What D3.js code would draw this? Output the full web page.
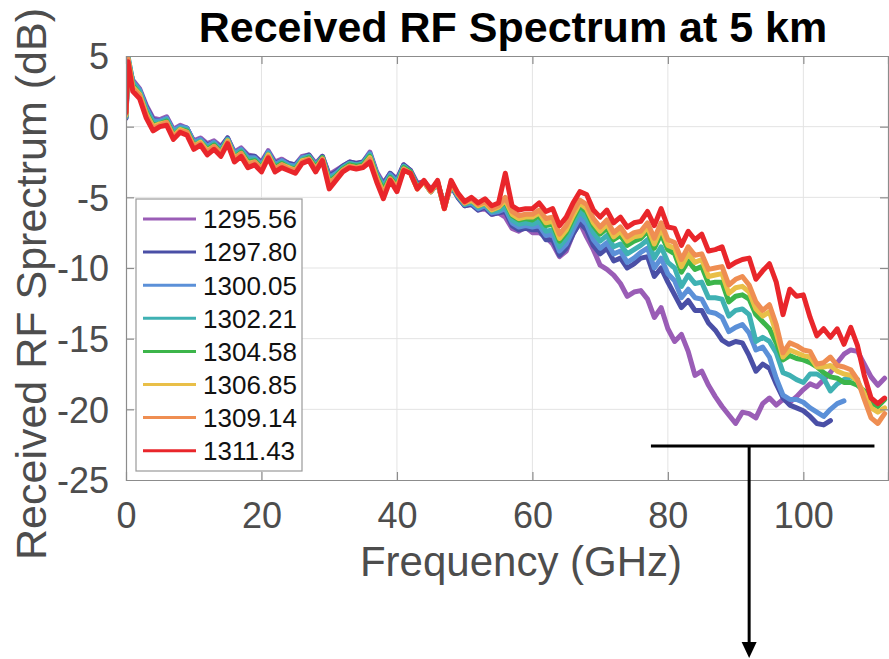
<!DOCTYPE html>
<html>
<head>
<meta charset="utf-8">
<script src="https://cdn.jsdelivr.net/npm/d3@7"></script>
<style>
  html, body { margin: 0; padding: 0; background: #ffffff; }
  svg { display: block; }
  text { font-family: "Liberation Sans", Arial, Helvetica, sans-serif; }
</style>
</head>
<body>
<div id="chart"></div>
<script>
// ---------------- DATA ----------------
const chartTitle = "Received RF Spectrum at 5 km";
const xLabel = "Frequency (GHz)";
const yLabel = "Received RF Sprectrum (dB)";
const xTicks = [0, 20, 40, 60, 80, 100];
const yTicks = [5, 0, -5, -10, -15, -20, -25];
const xDomain = [0, 112.5];
const yDomain = [-25, 5];

// Frequency grid (GHz) shared by all series
const freqs = [0, 0.3, 1, 2, 3, 4, 5, 6, 7, 8, 9, 10, 11, 12, 13, 14, 15, 16, 17, 18, 19, 20,
  21, 22, 23, 24, 25, 26, 27, 28, 29, 30, 31, 32, 33, 34, 35, 36, 37, 38, 39, 40,
  41, 42, 43, 44, 45, 46, 47, 48, 49, 50, 51, 52, 53, 54, 55, 56, 57, 58, 59, 60,
  61, 62, 63, 64, 65, 66, 67, 68, 69, 70, 71, 72, 73, 74, 75, 76, 77, 78, 79, 80,
  81, 82, 83, 84, 85, 86, 87, 88, 89, 90, 91, 92, 93, 94, 95, 96, 97, 98, 99, 100,
  101, 102, 103, 104, 105, 106, 107, 108, 109, 110, 111, 112];

const seriesNames = ["1295.56", "1297.80", "1300.05", "1302.21", "1304.58", "1306.85", "1309.14", "1311.43"];
const seriesColors = ["#9a5db6", "#4a4fa6", "#5b90d8", "#3fb1b3", "#3cb54a", "#e9bf48", "#ef8e52", "#e9262b"];

const s1295 = [0.6, 4.4, 3.3, 2.7, 1.5, 0.6, 0.5, 0.7, -0.2, 0.1, -0.1, -1.0, -0.8, -1.2, -1.0, -1.4, -0.8, -1.8, -1.5, -2.0, -2.1, -2.5,
  -1.7, -2.5, -2.3, -2.6, -2.7, -2.1, -2.0, -2.6, -2.1, -3.4, -3.1, -2.8, -2.5, -2.6, -2.5, -1.8, -3.2, -4.0, -3.3, -3.7,
  -2.7, -3.1, -4.0, -3.9, -4.4, -4.0, -5.5, -4.2, -5.0, -5.6, -5.5, -5.9, -5.8, -6.2, -6.1, -6.4, -7.2, -7.4, -7.1, -7.5,
  -7.5, -7.8, -8.3, -9.2, -8.8, -7.6, -6.8, -7.8, -8.7, -9.8, -10.1, -10.5, -11.1, -12.0, -11.7, -11.6, -12.2, -13.5, -12.8, -14.3,
  -15.2, -14.7, -15.9, -17.6, -17.3, -18.3, -19.1, -19.8, -20.4, -21.0, -20.2, -20.3, -20.6, -19.6, -19.2, -19.7, -19.3, -19.5, -19.1, -18.6,
  -18.2, -18.4, -17.9, -17.4, -16.7, -16.1, -15.8, -15.9, -16.8, -17.7, -18.3, -17.8];

const s1297 = [0.6, 4.7, 3.2, 2.6, 1.4, 0.5, 0.4, 0.6, -0.3, 0.0, -0.1, -1.1, -0.9, -1.3, -1.1, -1.5, -0.8, -1.9, -1.6, -2.1, -2.1, -2.6,
  -1.8, -2.6, -2.4, -2.6, -2.7, -2.2, -2.0, -2.7, -2.1, -3.5, -3.2, -2.8, -2.5, -2.6, -2.5, -1.9, -3.3, -4.1, -3.3, -3.8,
  -2.7, -3.1, -4.1, -3.9, -4.5, -4.0, -5.6, -4.2, -5.0, -5.6, -5.5, -5.9, -5.7, -6.2, -6.1, -6.0, -7.0, -7.3, -7.2, -7.3,
  -7.3, -8.0, -8.0, -9.1, -8.6, -7.6, -6.8, -7.3, -8.4, -9.0, -8.6, -9.5, -9.3, -10.0, -9.7, -9.3, -9.2, -10.6, -10.0, -11.0,
  -11.9, -12.8, -12.3, -13.0, -13.0, -13.9, -14.4, -15.1, -15.4, -15.2, -15.3, -16.2, -17.3, -16.8, -17.1, -18.2, -19.2, -19.7, -19.9, -20.1,
  -20.5, -21.0, -21.1, -20.8];

const s1300 = [0.7, 4.9, 3.2, 2.6, 1.3, 0.4, 0.4, 0.6, -0.3, 0.0, -0.1, -1.1, -0.9, -1.4, -1.1, -1.6, -0.9, -1.9, -1.6, -2.2, -2.2, -2.7,
  -1.8, -2.7, -2.4, -2.7, -2.8, -2.2, -2.1, -2.7, -2.2, -3.6, -3.3, -2.9, -2.6, -2.7, -2.6, -1.9, -3.3, -4.2, -3.4, -3.9,
  -2.8, -3.2, -4.2, -3.9, -4.6, -4.0, -5.7, -4.1, -4.9, -5.5, -5.4, -5.8, -5.6, -6.1, -6.0, -5.8, -6.8, -7.1, -7.0, -7.1,
  -7.0, -7.7, -7.6, -8.8, -8.3, -7.3, -6.4, -6.9, -8.0, -8.6, -8.2, -9.0, -8.8, -9.6, -9.3, -8.9, -8.6, -10.0, -9.3, -10.4,
  -10.9, -12.1, -11.5, -12.1, -12.2, -13.1, -13.2, -13.5, -14.5, -14.2, -14.0, -14.6, -15.8, -15.6, -16.3, -17.8, -19.0, -19.3, -19.3, -19.5,
  -19.9, -20.2, -20.5, -20.0, -19.6, -19.4];

const s1302 = [0.7, 5.0, 3.1, 2.5, 1.2, 0.3, 0.3, 0.5, -0.4, -0.1, -0.2, -1.2, -1.0, -1.5, -1.2, -1.7, -0.9, -2.0, -1.7, -2.3, -2.3, -2.8,
  -1.9, -2.8, -2.5, -2.8, -2.9, -2.3, -2.1, -2.8, -2.2, -3.7, -3.4, -2.9, -2.6, -2.7, -2.6, -2.0, -3.4, -4.3, -3.5, -4.0,
  -2.8, -3.2, -4.2, -3.9, -4.6, -4.0, -5.7, -4.1, -4.9, -5.5, -5.3, -5.7, -5.5, -6.0, -5.9, -5.6, -6.6, -6.9, -6.8, -6.9,
  -6.7, -7.4, -7.3, -8.5, -7.9, -6.9, -6.0, -6.5, -7.5, -8.1, -7.7, -8.5, -8.3, -9.0, -8.7, -8.4, -8.0, -9.3, -8.5, -9.6,
  -10.0, -11.3, -10.5, -11.1, -11.0, -12.1, -12.1, -12.2, -13.4, -13.0, -12.9, -13.3, -15.2, -14.9, -15.2, -16.0, -17.4, -17.6, -17.9, -18.1,
  -17.5, -17.5, -17.8, -18.7, -18.2, -17.9, -17.7, -17.9];

const s1304 = [0.8, 4.8, 2.9, 2.3, 1.0, 0.1, 0.2, 0.4, -0.6, -0.2, -0.3, -1.3, -1.1, -1.6, -1.3, -1.8, -1.0, -2.2, -1.8, -2.5, -2.4, -2.9,
  -2.0, -2.9, -2.6, -2.9, -3.0, -2.4, -2.2, -2.9, -2.2, -3.9, -3.5, -3.0, -2.7, -2.8, -2.7, -2.1, -3.5, -4.5, -3.6, -4.2,
  -2.9, -3.2, -4.3, -3.9, -4.6, -3.9, -5.7, -4.0, -4.8, -5.4, -5.2, -5.6, -5.4, -5.9, -5.7, -5.3, -6.3, -6.6, -6.5, -6.6,
  -6.3, -7.0, -6.9, -8.1, -7.5, -6.5, -5.6, -6.0, -7.0, -7.6, -7.2, -8.0, -7.7, -8.4, -8.1, -7.9, -7.4, -8.6, -7.6, -8.7,
  -9.0, -10.3, -9.5, -10.1, -9.9, -11.1, -11.0, -11.0, -12.4, -12.0, -11.9, -12.2, -13.3, -13.8, -14.3, -15.3, -16.5, -16.2, -16.4, -16.5,
  -16.7, -17.0, -17.4, -17.7, -17.8, -18.1, -18.1, -18.3, -18.7, -19.5, -19.8, -19.3];

const s1306 = [0.8, 4.8, 2.8, 2.3, 0.9, 0.0, 0.2, 0.3, -0.7, -0.2, -0.4, -1.4, -1.1, -1.7, -1.4, -1.9, -1.0, -2.2, -1.9, -2.6, -2.5, -3.0,
  -2.0, -3.0, -2.7, -2.9, -3.1, -2.4, -2.3, -3.0, -2.3, -4.0, -3.6, -3.1, -2.8, -2.9, -2.8, -2.2, -3.6, -4.7, -3.7, -4.3,
  -3.0, -3.3, -4.4, -3.9, -4.6, -3.9, -5.8, -4.0, -4.8, -5.4, -5.2, -5.6, -5.4, -5.9, -5.7, -5.2, -6.2, -6.5, -6.4, -6.4,
  -6.1, -6.8, -6.7, -7.9, -7.3, -6.3, -5.4, -5.8, -6.8, -7.4, -6.9, -7.8, -7.4, -8.1, -7.8, -7.7, -7.1, -8.3, -7.2, -8.4,
  -8.6, -9.9, -9.0, -9.6, -9.4, -10.6, -10.5, -10.4, -11.8, -11.4, -11.3, -11.7, -12.9, -13.4, -13.1, -14.6, -16.3, -15.8, -16.0, -16.2,
  -16.3, -17.0, -17.0, -16.9, -17.3, -17.5, -17.6, -18.0, -18.9, -19.9, -20.2, -19.9];

const s1309 = [0.9, 4.8, 2.7, 2.2, 0.8, -0.1, 0.1, 0.3, -0.7, -0.3, -0.4, -1.4, -1.2, -1.8, -1.4, -1.9, -1.1, -2.3, -1.9, -2.7, -2.5, -3.0,
  -2.1, -3.0, -2.7, -3.0, -3.1, -2.5, -2.3, -3.0, -2.3, -4.1, -3.6, -3.1, -2.8, -2.9, -2.8, -2.3, -3.7, -4.8, -3.7, -4.4,
  -3.0, -3.3, -4.4, -3.9, -4.6, -3.9, -5.8, -3.9, -4.8, -5.4, -5.1, -5.5, -5.3, -5.8, -5.6, -5.0, -6.0, -6.3, -6.2, -6.2,
  -5.9, -6.5, -6.4, -7.6, -7.0, -6.0, -5.2, -5.5, -6.5, -7.1, -6.6, -7.5, -7.1, -7.8, -7.5, -7.4, -6.8, -7.9, -6.8, -8.0,
  -8.2, -9.4, -8.5, -9.1, -9.0, -10.1, -10.0, -9.9, -11.2, -10.8, -10.6, -11.2, -12.4, -13.0, -12.6, -14.0, -16.0, -15.3, -15.5, -15.8,
  -15.9, -16.8, -16.7, -16.3, -16.9, -17.0, -17.2, -17.9, -19.3, -20.6, -21.0, -20.3];

const s1311 = [1.0, 4.6, 2.5, 2.0, 0.6, -0.3, 0.0, 0.1, -0.9, -0.4, -0.6, -1.6, -1.3, -2.0, -1.6, -2.1, -1.2, -2.5, -2.1, -2.9, -2.7, -3.2,
  -2.2, -3.2, -2.9, -3.1, -3.3, -2.6, -2.4, -3.2, -2.4, -4.4, -3.8, -3.2, -2.9, -3.0, -2.9, -2.5, -3.9, -5.1, -3.8, -4.6,
  -3.1, -3.3, -4.4, -3.8, -4.5, -3.8, -5.8, -3.8, -4.7, -5.3, -5.0, -5.4, -5.1, -5.6, -5.4, -3.3, -5.6, -5.9, -5.8, -5.8,
  -5.4, -6.0, -5.8, -7.0, -6.4, -5.4, -4.6, -4.8, -5.9, -6.4, -5.9, -6.8, -6.4, -7.1, -6.8, -6.7, -6.0, -7.0, -5.8, -7.1,
  -7.2, -8.4, -7.4, -8.0, -7.6, -8.8, -8.7, -8.5, -9.9, -9.6, -9.4, -9.3, -10.8, -10.2, -9.7, -11.0, -13.3, -11.5, -12.0, -11.9,
  -13.5, -14.8, -14.3, -14.9, -14.3, -15.4, -14.2, -15.5, -17.6, -19.2, -19.6, -19.2];

const seriesValues = [s1295, s1297, s1300, s1302, s1304, s1306, s1309, s1311];

// Annotation (data units): bracket and arrow
const bracketX = [77.5, 110.5];
const bracketY = -22.6;
const arrowX = 92.0;
const arrowEndY = -37.6;

// ---------------- LAYOUT ----------------
const W = 889, H = 659;
const M = { left: 126, top: 56, right: 1, bottom: 179 };
const pw = W - M.left - M.right;   // 762
const ph = H - M.top - M.bottom;   // 424

const svg = d3.select("#chart").append("svg")
  .attr("width", W).attr("height", H);

const x = d3.scaleLinear().domain(xDomain).range([M.left, M.left + pw]);
const y = d3.scaleLinear().domain(yDomain).range([M.top + ph, M.top]);

const axisColor = "#8c8c8c";
const labelColor = "#4d4d4d";
const gridColor = "#e3e3e3";
const fmt = d => String(d);   // plain hyphen-minus like the reference

// grid
const grid = svg.append("g");
grid.selectAll("line.gx").data(xTicks.filter(d => d > xDomain[0] && d < xDomain[1]))
  .enter().append("line")
  .attr("x1", d => x(d)).attr("x2", d => x(d))
  .attr("y1", y(yDomain[0])).attr("y2", y(yDomain[1]))
  .attr("stroke", gridColor).attr("stroke-width", 1);
grid.selectAll("line.gy").data(yTicks.filter(d => d > yDomain[0] && d < yDomain[1]))
  .enter().append("line")
  .attr("y1", d => y(d)).attr("y2", d => y(d))
  .attr("x1", x(xDomain[0])).attr("x2", x(xDomain[1]))
  .attr("stroke", gridColor).attr("stroke-width", 1);

// clip
svg.append("clipPath").attr("id", "plotclip")
  .append("rect").attr("x", M.left).attr("y", M.top).attr("width", pw).attr("height", ph);

// lines
const line = d3.line()
  .x((d, i) => x(freqs[i]))
  .y(d => y(d));

const plotG = svg.append("g").attr("clip-path", "url(#plotclip)");
seriesValues.forEach((vals, k) => {
  plotG.append("path")
    .datum(vals)
    .attr("fill", "none")
    .attr("stroke", seriesColors[k])
    .attr("stroke-width", 5)
    .attr("stroke-linejoin", "round")
    .attr("stroke-linecap", "round")
    .attr("d", line);
});

// axes (box with inward ticks)
const tickLen = 8;
const axisG = svg.append("g");
const xAxisB = d3.axisBottom(x).tickValues(xTicks).tickSize(-tickLen).tickPadding(22).tickFormat(fmt);
const xAxisT = d3.axisTop(x).tickValues(xTicks).tickSize(-tickLen).tickFormat("");
const yAxisL = d3.axisLeft(y).tickValues(yTicks).tickSize(-tickLen).tickPadding(17).tickFormat(fmt);
const yAxisR = d3.axisRight(y).tickValues(yTicks).tickSize(-tickLen).tickFormat("");

const gxb = axisG.append("g").attr("transform", `translate(0,${M.top + ph})`).call(xAxisB);
const gxt = axisG.append("g").attr("transform", `translate(0,${M.top})`).call(xAxisT);
const gyl = axisG.append("g").attr("transform", `translate(${M.left},0)`).call(yAxisL);
const gyr = axisG.append("g").attr("transform", `translate(${M.left + pw},0)`).call(yAxisR);

[gxb, gxt, gyl, gyr].forEach(g => {
  g.select(".domain").attr("stroke", axisColor).attr("stroke-width", 1.2);
  g.selectAll(".tick line").attr("stroke", axisColor).attr("stroke-width", 1.2);
  g.selectAll(".tick text")
    .attr("fill", labelColor)
    .style("font-family", '"Liberation Sans", Arial, Helvetica, sans-serif')
    .style("font-size", "36px");
});
gxb.selectAll(".tick text").attr("dy", "0.71em");
gyl.selectAll(".tick text").attr("dy", "0.36em");
// hide ticks exactly on box edges
gxb.selectAll(".tick line").filter(d => d === xDomain[0]).remove();
gxt.selectAll(".tick line").filter(d => d === xDomain[0]).remove();
gyl.selectAll(".tick line").filter(d => d === yDomain[0] || d === yDomain[1]).remove();
gyr.selectAll(".tick line").filter(d => d === yDomain[0] || d === yDomain[1]).remove();

// title
svg.append("text")
  .attr("x", 513).attr("y", 42)
  .attr("text-anchor", "middle")
  .attr("font-size", "43px").attr("font-weight", "bold").attr("fill", "#000")
  .text(chartTitle);

// x label
svg.append("text")
  .attr("x", 521).attr("y", 576)
  .attr("text-anchor", "middle")
  .attr("font-size", "42px").attr("fill", labelColor)
  .text(xLabel);

// y label
svg.append("text")
  .attr("transform", "translate(46,284) rotate(-90)")
  .attr("text-anchor", "middle")
  .attr("font-size", "43px").attr("fill", labelColor)
  .text(yLabel);

// legend
const lg = svg.append("g");
const legX = 136, legY = 199, legW = 166, legH = 272, rowH = 33.1;
lg.append("rect").attr("x", legX).attr("y", legY).attr("width", legW).attr("height", legH)
  .attr("fill", "#fff").attr("stroke", "#9a9a9a").attr("stroke-width", 1.2);
seriesNames.forEach((nm, k) => {
  const cy = legY + 20 + k * rowH;
  lg.append("line").attr("x1", legX + 7).attr("x2", legX + 60)
    .attr("y1", cy).attr("y2", cy)
    .attr("stroke", seriesColors[k]).attr("stroke-width", 3);
  lg.append("text").attr("x", legX + 67).attr("y", cy).attr("dy", "0.36em")
    .attr("font-size", "26px").attr("fill", "#111").text(nm);
});

// annotation bracket and arrow
const ann = svg.append("g");
ann.append("line")
  .attr("x1", x(bracketX[0])).attr("x2", x(bracketX[1]))
  .attr("y1", y(bracketY)).attr("y2", y(bracketY))
  .attr("stroke", "#000").attr("stroke-width", 3);
ann.append("line")
  .attr("x1", x(arrowX)).attr("x2", x(arrowX))
  .attr("y1", y(bracketY)).attr("y2", y(arrowEndY) - 12)
  .attr("stroke", "#000").attr("stroke-width", 3);
const tipX = x(arrowX), tipY = y(arrowEndY);
ann.append("path")
  .attr("d", `M${tipX},${tipY} L${tipX - 7.5},${tipY - 16} L${tipX + 7.5},${tipY - 16} Z`)
  .attr("fill", "#000");
</script>
</body>
</html>
